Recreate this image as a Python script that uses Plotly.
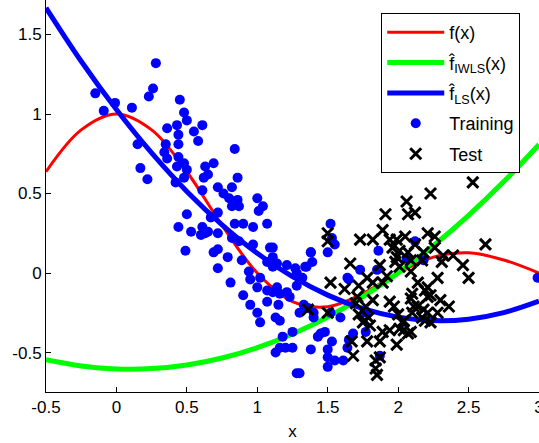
import plotly.graph_objects as go

# Curve samples on a regular grid of x
x_grid = [-0.5, -0.25, 0.0, 0.25, 0.5, 0.75, 1.0, 1.25, 1.5, 1.75, 2.0, 2.25, 2.5, 2.75, 3.0]
f_true = [0.637, 0.900, 1.000, 0.900, 0.637, 0.300, 0.000, -0.180, -0.212, -0.129, 0.000, 0.100, 0.127, 0.082, 0.000]
f_iwls = [-0.545, -0.584, -0.603, -0.601, -0.578, -0.534, -0.469, -0.383, -0.276, -0.148, 0.001, 0.172, 0.363, 0.575, 0.808]
f_ls = [1.668, 1.332, 1.028, 0.755, 0.513, 0.303, 0.124, -0.023, -0.139, -0.224, -0.277, -0.299, -0.290, -0.249, -0.177]

# Training samples
train_x = [0.28, 0.26, 0.23, -0.15, -0.01, -0.09, 0.11, 0.45, 0.48, 0.50,
           0.36, 0.43, 0.44, 0.55, 0.58, 0.44, 0.35, 0.15, 0.34, 0.36,
           0.61, 0.44, 0.48, 0.43, 0.50, 0.48, 0.42, 0.63, 0.69, 0.65,
           0.62, 0.84, 0.86, 0.82, 0.72, 0.76, 0.80, 0.86, 0.61, 0.82,
           0.87, 0.72, 1.00, 1.04, 1.01, 1.07, 0.97, 0.90, 0.84, 0.67,
           0.50, 0.44, 0.53, 0.61, 0.65, 0.72, 0.60, 0.17, 0.22, 0.49,
           0.63, 0.82, 0.87, 0.97, 1.11, 0.69, 0.72, 0.72, 0.81, 0.79,
           0.89, 0.94, 0.95, 1.02, 1.09, 1.11, 1.07, 1.11, 1.14, 1.21,
           1.27, 1.28, 1.35, 1.38, 1.00, 1.07, 1.14, 1.16, 1.11, 1.28,
           1.21, 1.23, 0.90, 0.95, 1.00, 1.07, 1.15, 1.02, 1.13, 1.16,
           1.18, 1.25, 1.16, 1.13, 1.20, 1.25, 1.28, 1.30, 1.33, 1.40,
           1.43, 1.52, 1.53, 1.55, 1.50, 1.38, 1.39, 1.34, 1.32, 1.73,
           1.85, 1.86, 2.12, 2.06, 1.64, 2.18, 1.36, 1.40, 1.52, 1.59,
           1.45, 1.53, 1.48, 1.38, 1.50, 1.50, 1.55, 1.61, 1.50, 1.64,
           1.68, 1.77, 1.65, 1.87, 1.77, 1.30, 1.65, 2.99]
train_y = [1.32, 1.16, 1.11, 1.13, 1.07, 1.02, 1.04, 1.09, 1.01, 0.96,
           0.91, 0.93, 0.87, 0.89, 0.83, 0.81, 0.81, 0.81, 0.76, 0.72,
           0.93, 0.73, 0.69, 0.67, 0.65, 0.60, 0.57, 0.67, 0.69, 0.62,
           0.60, 0.78, 0.60, 0.54, 0.54, 0.50, 0.47, 0.46, 0.52, 0.42,
           0.42, 0.38, 0.47, 0.42, 0.39, 0.31, 0.29, 0.31, 0.31, 0.35,
           0.37, 0.29, 0.26, 0.29, 0.26, 0.25, 0.24, 0.66, 0.59, 0.14,
           0.25, 0.22, 0.20, 0.18, 0.16, 0.13, 0.15, 0.03, -0.06, 0.10,
           0.08, 0.01, -0.04, -0.03, 0.16, 0.10, 0.07, 0.04, 0.06, 0.05,
           0.03, 0.00, 0.04, 0.13, -0.09, -0.11, -0.09, -0.13, -0.12, -0.08,
           -0.12, -0.15, -0.14, -0.20, -0.25, -0.18, -0.20, -0.31, -0.28, -0.30,
           -0.40, -0.37, -0.47, -0.50, -0.47, -0.47, -0.63, -0.25, -0.20, -0.25,
           -0.40, 0.31, 0.22, 0.18, 0.13, 0.13, 0.07, 0.04, -0.03, 0.02,
           0.02, 0.14, 0.20, 0.09, -0.03, 0.08, -0.22, -0.28, -0.25, -0.28,
           -0.38, -0.43, -0.37, -0.48, -0.48, -0.53, -0.55, -0.55, -0.59, -0.47,
           -0.38, -0.37, -0.42, -0.52, -0.25, -0.63, -0.04, -0.03]

# Test samples
test_x = [2.53, 2.23, 2.06, 2.12, 2.07, 1.91, 1.50, 1.50, 1.73, 1.82,
          1.89, 1.94, 1.99, 2.05, 2.21, 2.26, 2.62, 1.96, 2.01, 2.07,
          1.99, 2.09, 2.18, 2.26, 2.32, 2.39, 2.46, 2.50, 1.66, 2.01,
          2.09, 1.52, 1.62, 1.78, 1.82, 1.89, 1.92, 2.17, 2.28, 2.19,
          2.23, 1.71, 1.70, 1.77, 1.36, 1.50, 1.72, 1.79, 1.75, 1.80,
          1.94, 1.97, 2.09, 2.11, 2.18, 2.17, 2.21, 2.28, 2.36, 1.89,
          1.94, 2.03, 2.04, 2.09, 1.67, 1.78, 1.87, 1.99, 1.68, 1.84,
          1.87, 1.84, 1.85, 2.14, 2.10, 2.21, 2.00, 2.10, 2.04, 2.19,
          2.23, 2.31, 2.21, 2.14, 1.72, 2.07, 2.01, 1.98, 1.87, 2.12,
          2.30, 1.82]
test_y = [0.57, 0.50, 0.45, 0.38, 0.37, 0.37, 0.25, 0.20, 0.21, 0.21,
          0.27, 0.21, 0.21, 0.23, 0.25, 0.23, 0.18, 0.16, 0.14, 0.13,
          0.10, 0.08, 0.13, 0.16, 0.11, 0.11, 0.05, -0.03, 0.06, 0.04,
          0.01, -0.06, -0.10, -0.03, -0.06, -0.06, -0.02, 0.08, -0.03, -0.11,
          -0.14, -0.15, -0.19, -0.21, -0.23, -0.25, -0.26, -0.28, -0.31, -0.33,
          -0.18, -0.21, -0.16, -0.21, -0.23, -0.28, -0.25, -0.25, -0.21, -0.37,
          -0.36, -0.31, -0.36, -0.37, -0.43, -0.43, -0.43, -0.45, -0.52, -0.55,
          -0.53, -0.60, -0.64, -0.06, -0.13, -0.15, -0.26, -0.25, -0.30, -0.30,
          -0.31, 0.07, -0.09, -0.21, -0.08, -0.38, -0.35, 0.07, 0.05, 0.18,
          -0.17, -0.17]

x_ticks = [-0.5, 0, 0.5, 1, 1.5, 2, 2.5, 3]
x_tick_text = ["-0.5", "0", "0.5", "1", "1.5", "2", "2.5", "3"]
y_ticks = [-0.5, 0, 0.5, 1, 1.5]
y_tick_text = ["-0.5", "0", "0.5", "1", "1.5"]

FONT = "Liberation Sans, Arial, Helvetica, sans-serif"

fig = go.Figure()

fig.add_trace(go.Scatter(x=x_grid, y=f_true, mode="lines", name="f(x)",
                         legendgroup="g1",
                         line=dict(color="#ff0000", width=3, shape="spline")))
fig.add_trace(go.Scatter(x=x_grid, y=f_iwls, mode="lines",
                         name="f\u0302<sub>IWLS</sub>(x)", legendgroup="g2",
                         line=dict(color="#00ff00", width=5, shape="spline")))
fig.add_trace(go.Scatter(x=x_grid, y=f_ls, mode="lines",
                         name="f\u0302<sub>LS</sub>(x)", legendgroup="g3",
                         line=dict(color="#0000ff", width=5, shape="spline")))
fig.add_trace(go.Scatter(x=train_x, y=train_y, mode="markers", name="Training",
                         legendgroup="g4",
                         marker=dict(color="#0000ff", size=10, symbol="circle",
                                     line=dict(width=0))))
fig.add_trace(go.Scatter(x=test_x, y=test_y, mode="markers", name="Test",
                         legendgroup="g5",
                         marker=dict(color="#000000", size=11, symbol="x-thin",
                                     line=dict(color="#000000", width=3))))

fig.update_layout(
    width=539, height=443,
    margin=dict(l=46, r=0, t=0, b=51, autoexpand=False),
    paper_bgcolor="white", plot_bgcolor="white",
    font=dict(family=FONT, size=17, color="black"),
    showlegend=True,
    legend=dict(x=0.68, y=0.967, xanchor="left", yanchor="top",
                bgcolor="white", bordercolor="black", borderwidth=1,
                font=dict(family=FONT, size=18, color="black"),
                itemwidth=57, traceorder="grouped", tracegroupgap=4),
    xaxis=dict(range=[-0.5, 3.0], tickvals=x_ticks, ticktext=x_tick_text,
               showgrid=False, zeroline=False, showline=True,
               linecolor="black", linewidth=1, ticks="inside", ticklen=5,
               tickcolor="black", ticklabeloverflow="allow", automargin=False,
               title=dict(text="x", standoff=8, font=dict(size=17))),
    yaxis=dict(range=[-0.748, 1.717], tickvals=y_ticks, ticktext=y_tick_text,
               showgrid=False, zeroline=False, showline=True,
               linecolor="black", linewidth=1, ticks="inside", ticklen=5,
               tickcolor="black", automargin=False),
)

fig.write_html("out.html")
